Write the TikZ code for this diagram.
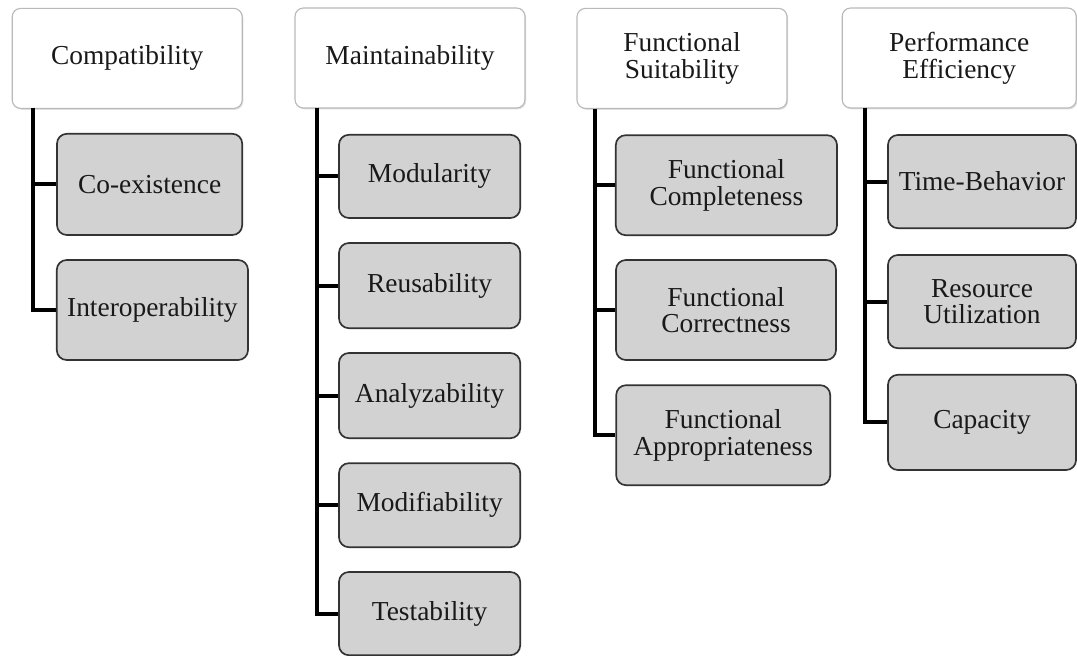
\documentclass[tikz,border=0pt]{standalone}
\usepackage{fontspec}
\setmainfont{Liberation Serif}
\usetikzlibrary{shadows}
\tikzset{
	every node/.append style={
			font=\fontsize{19.5}{19}\selectfont, text=black!90, align=center,
		},
	headbox/.style = {
			draw            = gray!55,
			fill            = white,
			line width      = 0.8pt,
			rounded corners = 6pt,
			minimum height  = 2.5cm,
			drop shadow={opacity=0.25, shadow xshift=0.8pt, shadow yshift=-1pt},
		},
	subbox/.style = {
			draw            = black!80,
			fill            = gray!35,
			line width      = 1.2pt,
			rounded corners = 7pt,
		},
	branch/.style = {draw=black, line width=2.8pt},
}

\begin{document}
\begin{tikzpicture}
			\useasboundingbox (0,0) rectangle (26.925,-16.4);
			% Quality characteristics
			\node[headbox,minimum width=5.75cm] (Compatibility) at (3.18,-1.46) {Compatibility};
			\node[headbox,minimum width=5.75cm] (Maintainability) at (10.25,-1.45) {Maintainability};
			\node[headbox,minimum width=5.25cm] (Functional Suitability) at (17.05,-1.46) {Functional\\
				Suitability};
			\node[headbox,minimum width=5.85cm] (Performance Efficiency) at (23.98,-1.45) {Performance\\
				Efficiency};

			% Sub-characteristics
			\node[subbox,minimum width=4.63cm,minimum height=2.53cm] (Co-existence) at (3.74,-4.61) {Co-existence};
			\node[subbox,minimum width=4.78cm,minimum height=2.5cm] (Interoperability) at (3.81,-7.75) {Interoperability};

			\node[subbox,minimum width=4.53cm,minimum height=2.08cm] (Modularity) at (10.74,-4.41) {Modularity};
			\node[subbox,minimum width=4.53cm,minimum height=2.13cm] (Reusability) at (10.74,-7.14) {Reusability};
			\node[subbox,minimum width=4.53cm,minimum height=2.13cm] (Analyzability) at (10.74,-9.89) {Analyzability};
			\node[subbox,minimum width=4.53cm,minimum height=2.1cm] (Modifiability) at (10.74,-12.63) {Modifiability};
			\node[subbox,minimum width=4.53cm,minimum height=2.08cm] (Testability) at (10.74,-15.34) {Testability};

			\node[subbox,minimum width=5.53cm,minimum height=2.5cm] (Functional Completeness) at (18.16,-4.63) {Functional\\
				Completeness};
			\node[subbox,minimum width=5.5cm,minimum height=2.5cm] (Functional Correctness) at (18.15,-7.75) {Functional\\
				Correctness};
			\node[subbox,minimum width=5.35cm,minimum height=2.5cm] (Functional Appropriateness) at (18.08,-10.88) {Functional\\
				Appropriateness};

			\node[subbox,minimum width=4.7cm,minimum height=2.33cm] (Time-Behavior) at (24.55,-4.54) {Time-Behavior};
			\node[subbox,minimum width=4.7cm,minimum height=2.33cm] (Resource Utilization) at (24.55,-7.54) {Resource\\
				Utilization};
			\node[subbox,minimum width=4.7cm,minimum height=2.38cm] (Capacity) at (24.55,-10.56) {Capacity};

			\coordinate (Joint1) at (0.83,-2.7);
			\coordinate (Joint2) at (7.93,-2.7);
			\coordinate (Joint3) at (14.88,-2.72);
			\coordinate (Joint4) at (21.63,-2.7);

			\draw[branch] (Joint1) |- (Co-existence);
			\draw[branch] (Joint1) |- (Interoperability);

			\draw[branch] (Joint2) |- (Modularity);
			\draw[branch] (Joint2) |- (Reusability);
			\draw[branch] (Joint2) |- (Analyzability);
			\draw[branch] (Joint2) |- (Modifiability);
			\draw[branch] (Joint2) |- (Testability);

			\draw[branch] (Joint3) |- (Functional Completeness);
			\draw[branch] (Joint3) |- (Functional Correctness);
			\draw[branch] (Joint3) |- (Functional Appropriateness);

			\draw[branch] (Joint4) |- (Time-Behavior);
			\draw[branch] (Joint4) |- (Resource Utilization);
			\draw[branch] (Joint4) |- (Capacity);
		\end{tikzpicture}
\end{document}
